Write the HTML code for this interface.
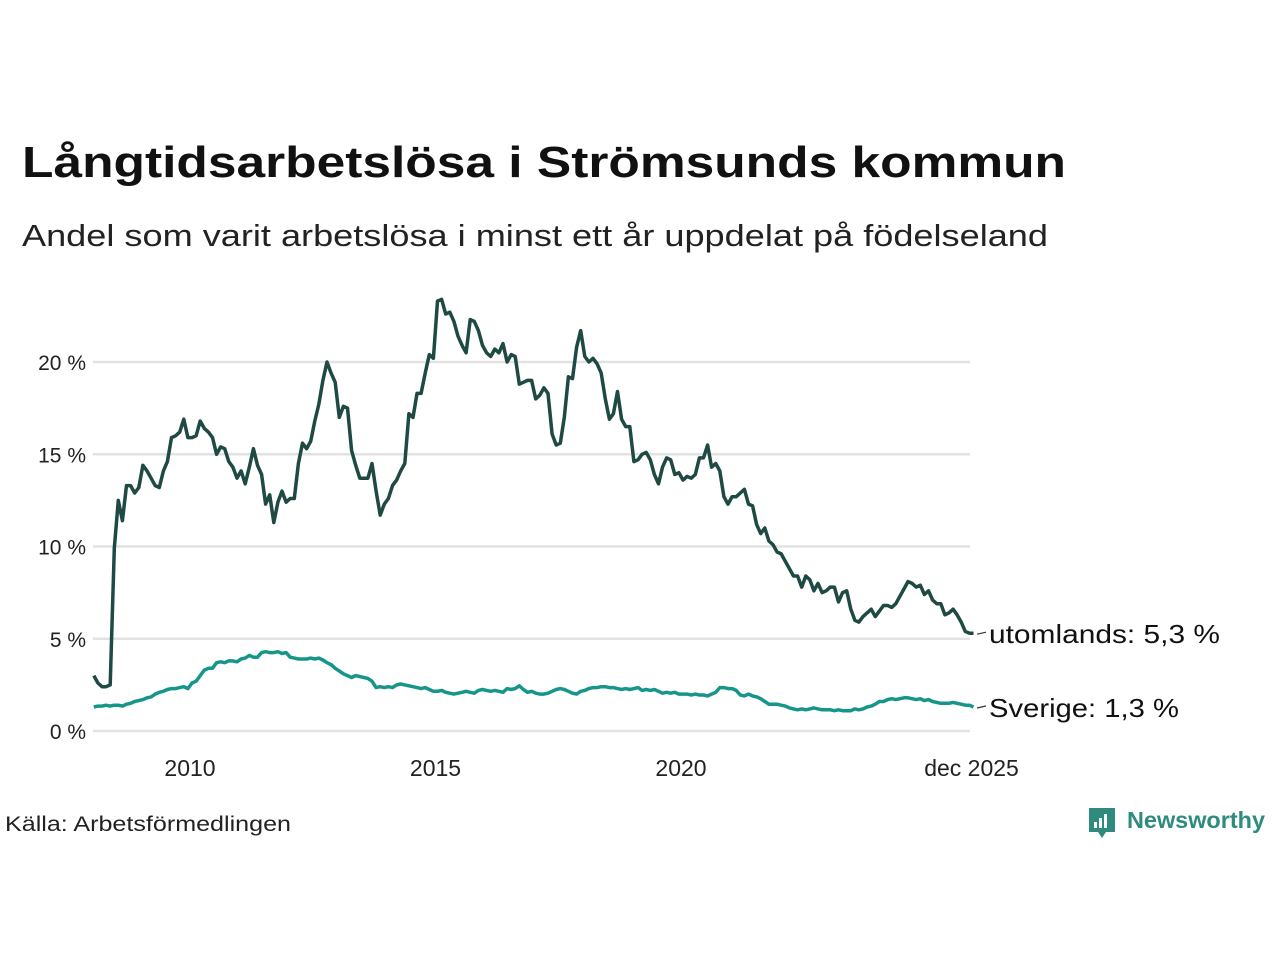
<!DOCTYPE html>
<html><head><meta charset="utf-8"><style>
body{margin:0;background:#fff;}
svg{display:block;font-family:"Liberation Sans",sans-serif;}
</style></head><body>
<svg id="chart" width="1280" height="960" viewBox="0 0 1280 960">
<text x="22" y="177" font-size="44" font-weight="bold" fill="#111" textLength="1044" lengthAdjust="spacingAndGlyphs">Långtidsarbetslösa i Strömsunds kommun</text>
<text x="22" y="246" font-size="31" fill="#222" textLength="1026" lengthAdjust="spacingAndGlyphs">Andel som varit arbetslösa i minst ett år uppdelat på födelseland</text>
<g id="grid"></g><g id="yticks"></g><g id="xticks"></g><g id="lines"></g>
<text x="5" y="831" font-size="21" fill="#222" textLength="286" lengthAdjust="spacingAndGlyphs">Källa: Arbetsförmedlingen</text>
<g>
<path d="M1089 808 h26 v24 h-9 l-4 6 l-4 -6 h-9 z" fill="#2e8b7e"/>
<rect x="1094" y="822" width="3" height="6" fill="#fff"/><rect x="1099" y="818" width="3" height="10" fill="#fff"/><rect x="1104" y="814" width="3" height="14" fill="#fff"/>
<text x="1127" y="828" font-size="23" font-weight="bold" fill="#2e8b7e" textLength="138" lengthAdjust="spacingAndGlyphs">Newsworthy</text>
</g>
</svg>
<script>
const yTicks=[0,5,10,15,20];
const yTickLabels=["0 %","5 %","10 %","15 %","20 %"];
const xTicks=[2010,2015,2020,2025.917];
const xTickLabels=["2010","2015","2020","dec 2025"];
const startYear=2008;
const utomlands=[3.0,2.6,2.4,2.4,2.5,9.9,12.5,11.4,13.3,13.3,12.9,13.2,
14.4,14.1,13.7,13.3,13.2,14.1,14.6,15.9,16.0,16.2,16.9,15.9,
15.9,16.0,16.8,16.4,16.2,15.9,15.0,15.4,15.3,14.6,14.3,13.7,
14.1,13.4,14.3,15.3,14.4,13.9,12.3,12.8,11.3,12.4,13.0,12.4,
12.6,12.6,14.5,15.6,15.3,15.7,16.8,17.7,19.0,20.0,19.4,18.9,
17.0,17.6,17.5,15.2,14.4,13.7,13.7,13.7,14.5,13.0,11.7,12.3,
12.6,13.3,13.6,14.1,14.5,17.2,17.0,18.3,18.3,19.4,20.4,20.2,
23.3,23.4,22.6,22.7,22.2,21.4,20.9,20.5,22.3,22.2,21.7,20.9,
20.5,20.3,20.7,20.5,21.0,20.0,20.4,20.3,18.8,18.9,19.0,19.0,
18.0,18.2,18.6,18.3,16.1,15.5,15.6,17.0,19.2,19.1,20.8,21.7,
20.3,20.0,20.2,19.9,19.4,18.0,16.9,17.2,18.4,16.9,16.5,16.5,
14.6,14.7,15.0,15.1,14.7,13.9,13.4,14.3,14.8,14.7,13.9,14.0,
13.6,13.8,13.7,13.9,14.8,14.8,15.5,14.3,14.5,14.1,12.7,12.3,
12.7,12.7,12.9,13.1,12.3,12.2,11.2,10.7,11.0,10.3,10.1,9.7,
9.6,9.2,8.8,8.4,8.4,7.8,8.4,8.2,7.6,8.0,7.5,7.6,
7.8,7.8,7.0,7.5,7.6,6.6,6.0,5.9,6.2,6.4,6.6,6.2,
6.5,6.8,6.8,6.7,6.9,7.3,7.7,8.1,8.0,7.8,7.9,7.4,
7.6,7.1,6.9,6.9,6.3,6.4,6.6,6.3,5.9,5.4,5.3,5.3];
const sverige=[1.3,1.35,1.35,1.4,1.35,1.4,1.4,1.35,1.45,1.5,1.6,1.65,
1.7,1.8,1.85,2.0,2.1,2.15,2.25,2.3,2.3,2.35,2.4,2.3,
2.6,2.7,3.0,3.3,3.4,3.4,3.7,3.75,3.7,3.8,3.8,3.75,
3.9,3.95,4.1,4.0,4.0,4.25,4.3,4.25,4.25,4.3,4.2,4.25,
4.0,3.95,3.9,3.9,3.9,3.95,3.9,3.95,3.85,3.7,3.6,3.4,
3.25,3.1,3.0,2.9,3.0,2.95,2.9,2.85,2.7,2.35,2.4,2.35,
2.4,2.35,2.5,2.55,2.5,2.45,2.4,2.35,2.3,2.35,2.25,2.15,
2.15,2.2,2.1,2.05,2.0,2.05,2.1,2.15,2.1,2.05,2.2,2.25,
2.2,2.15,2.2,2.15,2.1,2.3,2.25,2.3,2.45,2.25,2.1,2.15,
2.05,2.0,2.0,2.05,2.15,2.25,2.3,2.25,2.15,2.05,2.0,2.15,
2.2,2.3,2.35,2.35,2.4,2.4,2.35,2.35,2.3,2.25,2.3,2.25,
2.3,2.35,2.2,2.25,2.2,2.25,2.15,2.05,2.1,2.05,2.1,2.0,
2.0,2.0,1.95,2.0,1.95,1.95,1.9,2.0,2.1,2.35,2.35,2.3,
2.3,2.2,1.95,1.9,2.0,1.9,1.85,1.75,1.6,1.45,1.45,1.45,
1.4,1.35,1.25,1.2,1.15,1.2,1.15,1.2,1.25,1.2,1.15,1.15,
1.15,1.1,1.15,1.1,1.1,1.1,1.2,1.15,1.2,1.3,1.35,1.45,
1.6,1.6,1.7,1.75,1.7,1.75,1.8,1.8,1.75,1.7,1.75,1.65,
1.7,1.6,1.55,1.5,1.5,1.5,1.55,1.5,1.45,1.4,1.4,1.3];
const seriesNames=["utomlands","Sverige"];

const NS="http://www.w3.org/2000/svg";
const xScale=t=>190+(t-2010)*49.1;
const yScale=v=>731-v*18.45;
const monthX=i=>xScale(startYear+i/12)+2;
function mk(tag,attrs,parent){const e=document.createElementNS(NS,tag);for(const k in attrs)e.setAttribute(k,attrs[k]);parent.appendChild(e);return e;}
const grid=document.getElementById('grid'),yt=document.getElementById('yticks'),xt=document.getElementById('xticks'),lines=document.getElementById('lines');
yTicks.forEach((v,i)=>{
  const l=mk('line',{x1:93,x2:970,y1:yScale(v),y2:yScale(v),stroke:'#e2e2e2','stroke-width':2.5},grid);
  
  
  const t=mk('text',{x:86,y:yScale(v)+8,'font-size':21,fill:'#222','text-anchor':'end'},yt);
  
  
  t.textContent=yTickLabels[i];
});
xTicks.forEach((v,i)=>{
  const t=mk('text',{x:xScale(v),y:776,'font-size':23,fill:'#222','text-anchor':'middle'},xt);
  
  
  t.textContent=xTickLabels[i];
});
function drawLine(data,color,name,label,w){
  const d=data.map((v,i)=>(i?'L':'M')+monthX(i).toFixed(1)+' '+yScale(v).toFixed(1)).join(' ');
  const p=mk('path',{d:d,fill:'none',stroke:color,'stroke-width':3.5,'stroke-linejoin':'round'},lines);
  
  
  const last=data[data.length-1],ly=yScale(last);
  const dash=mk('line',{x1:977,x2:986,y1:ly+1,y2:ly-1,stroke:'#333','stroke-width':1.2},lines);
  
  
  const t=mk('text',{x:989,y:ly+10,'font-size':26,fill:'#111',textLength:w,lengthAdjust:'spacingAndGlyphs'},lines);
  
  
  t.textContent=label+': '+last.toFixed(1).replace('.',',')+' %';
}
drawLine(sverige,'#16968a','sverige','Sverige',190);
drawLine(utomlands,'#1f4a43','utomlands','utomlands',231);
</script>
</body></html>
